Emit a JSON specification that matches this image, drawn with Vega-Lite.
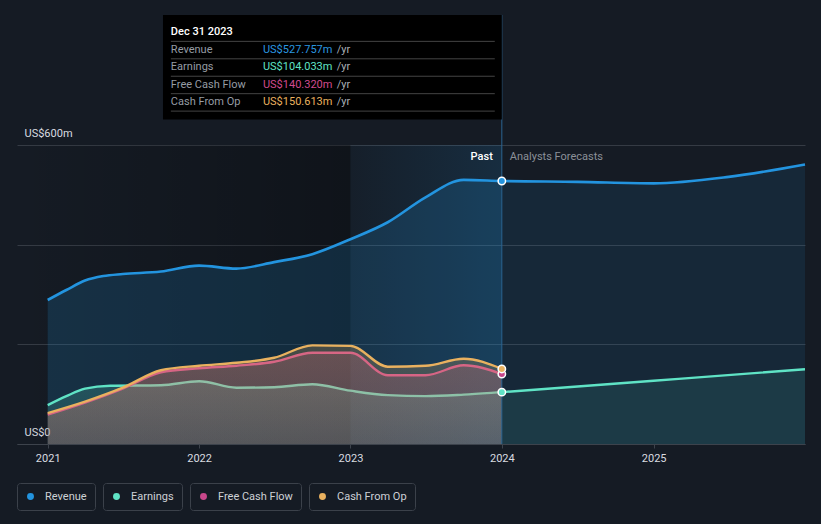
{
  "$schema": "https://vega.github.io/schema/vega-lite/v6.json",
  "width": 788,
  "height": 444,
  "autosize": {"type": "none"},
  "padding": {"left": 17, "top": 0, "right": 16, "bottom": 80},
  "background": "#151b24",
  "config": {
    "view": {"stroke": null},
    "font": "Roboto",
    "legend": {
      "orient": "bottom",
      "direction": "horizontal",
      "title": null,
      "padding": 8,
      "strokeColor": "#3b414a",
      "cornerRadius": 3,
      "symbolType": "circle",
      "symbolSize": 48,
      "symbolStrokeWidth": 0,
      "labelColor": "#cdd1d6",
      "labelFontSize": 11,
      "labelFont": "Roboto",
      "labelOffset": 9,
      "offset": 20
    }
  },
  "datasets": {
    "fin": [
      {"s": "Revenue", "d": "2021-01-01", "v": 289},
      {"s": "Revenue", "d": "2021-02-15", "v": 309},
      {"s": "Revenue", "d": "2021-04-01", "v": 328},
      {"s": "Revenue", "d": "2021-05-15", "v": 337},
      {"s": "Revenue", "d": "2021-07-01", "v": 341},
      {"s": "Revenue", "d": "2021-10-01", "v": 346},
      {"s": "Revenue", "d": "2022-01-01", "v": 358},
      {"s": "Revenue", "d": "2022-04-01", "v": 352},
      {"s": "Revenue", "d": "2022-07-01", "v": 365},
      {"s": "Revenue", "d": "2022-10-01", "v": 381},
      {"s": "Revenue", "d": "2023-01-01", "v": 411},
      {"s": "Revenue", "d": "2023-04-01", "v": 445},
      {"s": "Revenue", "d": "2023-07-01", "v": 495},
      {"s": "Revenue", "d": "2023-10-01", "v": 530},
      {"s": "Revenue", "d": "2024-01-01", "v": 527.757},
      {"s": "Revenue", "d": "2024-07-01", "v": 526},
      {"s": "Revenue", "d": "2025-01-01", "v": 523},
      {"s": "Revenue", "d": "2025-07-01", "v": 536},
      {"s": "Revenue", "d": "2026-01-01", "v": 561},
      {"s": "Earnings", "d": "2021-01-01", "v": 78},
      {"s": "Earnings", "d": "2021-02-15", "v": 96},
      {"s": "Earnings", "d": "2021-04-01", "v": 111},
      {"s": "Earnings", "d": "2021-06-01", "v": 117},
      {"s": "Earnings", "d": "2021-10-01", "v": 118},
      {"s": "Earnings", "d": "2022-01-01", "v": 126},
      {"s": "Earnings", "d": "2022-04-01", "v": 113},
      {"s": "Earnings", "d": "2022-07-01", "v": 114},
      {"s": "Earnings", "d": "2022-10-01", "v": 120},
      {"s": "Earnings", "d": "2023-01-01", "v": 107},
      {"s": "Earnings", "d": "2023-04-01", "v": 98},
      {"s": "Earnings", "d": "2023-07-01", "v": 96},
      {"s": "Earnings", "d": "2023-10-01", "v": 99},
      {"s": "Earnings", "d": "2024-01-01", "v": 104.033},
      {"s": "Earnings", "d": "2025-01-01", "v": 127},
      {"s": "Earnings", "d": "2026-01-01", "v": 150},
      {"s": "Free Cash Flow", "d": "2021-01-01", "v": 59},
      {"s": "Free Cash Flow", "d": "2021-04-01", "v": 83},
      {"s": "Free Cash Flow", "d": "2021-07-01", "v": 111},
      {"s": "Free Cash Flow", "d": "2021-10-01", "v": 144},
      {"s": "Free Cash Flow", "d": "2022-01-01", "v": 152},
      {"s": "Free Cash Flow", "d": "2022-04-01", "v": 157},
      {"s": "Free Cash Flow", "d": "2022-07-01", "v": 165},
      {"s": "Free Cash Flow", "d": "2022-10-01", "v": 183},
      {"s": "Free Cash Flow", "d": "2023-01-01", "v": 183},
      {"s": "Free Cash Flow", "d": "2023-04-01", "v": 138},
      {"s": "Free Cash Flow", "d": "2023-07-01", "v": 138},
      {"s": "Free Cash Flow", "d": "2023-10-01", "v": 158},
      {"s": "Free Cash Flow", "d": "2024-01-01", "v": 140.32},
      {"s": "Cash From Op", "d": "2021-01-01", "v": 62},
      {"s": "Cash From Op", "d": "2021-04-01", "v": 85},
      {"s": "Cash From Op", "d": "2021-07-01", "v": 113},
      {"s": "Cash From Op", "d": "2021-10-01", "v": 148},
      {"s": "Cash From Op", "d": "2022-01-01", "v": 157},
      {"s": "Cash From Op", "d": "2022-04-01", "v": 163},
      {"s": "Cash From Op", "d": "2022-07-01", "v": 173},
      {"s": "Cash From Op", "d": "2022-10-01", "v": 198},
      {"s": "Cash From Op", "d": "2023-01-01", "v": 197},
      {"s": "Cash From Op", "d": "2023-04-01", "v": 155},
      {"s": "Cash From Op", "d": "2023-07-01", "v": 157},
      {"s": "Cash From Op", "d": "2023-10-01", "v": 171},
      {"s": "Cash From Op", "d": "2024-01-01", "v": 150.613}
    ]
  },
  "layer": [
    {
      "data": {"values": [{}]},
      "mark": {"type": "rect", "fill": {"gradient": "linear", "x1": 0, "y1": 0, "x2": 1, "y2": 0, "stops": [{"offset": 0, "color": "rgba(0,0,0,0)"}, {"offset": 1, "color": "rgba(0,0,0,0.28)"}]}},
      "encoding": {
        "x": {"datum": {"year": 2020, "month": 10, "date": 19, "utc": true}, "type": "temporal", "title": null},
        "x2": {"datum": {"year": 2023, "month": 1, "date": 1, "utc": true}},
        "y": {"datum": 0, "type": "quantitative", "title": null},
        "y2": {"datum": 600}
      }
    },
    {
      "data": {"values": [{}]},
      "mark": {"type": "rect", "fill": {"gradient": "linear", "x1": 0, "y1": 0, "x2": 1, "y2": 0, "stops": [{"offset": 0, "color": "rgba(35,148,223,0.03)"}, {"offset": 1, "color": "rgba(35,148,223,0.15)"}]}},
      "encoding": {
        "x": {"datum": {"year": 2023, "month": 1, "date": 1, "utc": true}, "type": "temporal", "title": null},
        "x2": {"datum": {"year": 2024, "month": 1, "date": 1, "utc": true}},
        "y": {"datum": 0, "type": "quantitative", "title": null},
        "y2": {"datum": 600}
      }
    },
    {
      "data": {"name": "fin", "format": {"parse": {"d": "date"}}},
      "encoding": {
        "x": {
          "field": "d", "type": "temporal", "title": null,
          "scale": {"type": "utc", "domain": [{"year": 2020, "month": 10, "date": 19, "utc": true}, {"year": 2026, "month": 1, "date": 1, "utc": true}]},
          "axis": {
            "format": "%Y",
            "values": [{"year": 2021, "utc": true}, {"year": 2022, "utc": true}, {"year": 2023, "utc": true}, {"year": 2024, "utc": true}, {"year": 2025, "utc": true}],
            "grid": false, "domainColor": "#3d434c", "tickColor": "#3d434c", "tickSize": 4,
            "labelColor": "#d9dce0", "labelFontSize": 11, "labelFont": "Roboto", "labelPadding": 4, "labelFlush": false
          }
        },
        "y": {
          "field": "v", "type": "quantitative", "title": null,
          "scale": {"domain": [0, 891], "nice": false},
          "axis": {
            "values": [0, 200, 400, 600], "grid": true, "gridColor": "#353b44", "domain": false, "ticks": false, "tickSize": 0,
            "labelAlign": "left", "labelPadding": -7, "labelBaseline": "alphabetic", "labelOffset": -9,
            "labelColor": "#d9dce0", "labelFontSize": 11, "labelFont": "Roboto",
            "labelExpr": "datum.value == 0 ? 'US$0' : datum.value == 600 ? 'US$600m' : ''"
          }
        }
      },
      "layer": [
        {
          "transform": [{"filter": "datum.s == 'Revenue' && time(datum.d) <= utc(2024,0,1)"}],
          "mark": {"type": "area", "interpolate": "monotone", "fill": "#2394df", "fillOpacity": 0.18}
        },
        {
          "transform": [{"filter": "datum.s == 'Revenue' && time(datum.d) >= utc(2024,0,1)"}],
          "mark": {"type": "area", "interpolate": "monotone", "fill": "#2394df", "fillOpacity": 0.11}
        },
        {
          "transform": [{"filter": "datum.s == 'Revenue'"}],
          "mark": {"type": "line", "interpolate": "monotone", "stroke": "#2394df", "strokeWidth": 2.6}
        },
        {
          "transform": [{"filter": "datum.s == 'Earnings' && time(datum.d) <= utc(2024,0,1)"}],
          "mark": {"type": "area", "interpolate": "monotone", "fill": {"gradient": "linear", "x1": 0, "y1": 0, "x2": 0, "y2": 1, "stops": [{"offset": 0, "color": "rgba(92,230,200,0.2)"}, {"offset": 1, "color": "rgba(92,230,200,0.12)"}]}}
        },
        {
          "transform": [{"filter": "datum.s == 'Earnings' && time(datum.d) >= utc(2024,0,1)"}],
          "mark": {"type": "area", "interpolate": "monotone", "fill": "#5ce6c8", "fillOpacity": 0.1}
        },
        {
          "transform": [{"filter": "datum.s == 'Earnings'"}],
          "mark": {"type": "line", "interpolate": "monotone", "stroke": "#5fe3c5", "strokeWidth": 2.4}
        },
        {
          "transform": [{"filter": "datum.s == 'Free Cash Flow'"}],
          "mark": {"type": "area", "interpolate": "monotone", "fill": {"gradient": "linear", "x1": 0, "y1": 0, "x2": 0, "y2": 1, "stops": [{"offset": 0, "color": "rgba(208,80,138,0.24)"}, {"offset": 1, "color": "rgba(208,80,138,0.16)"}]}}
        },
        {
          "transform": [{"filter": "datum.s == 'Free Cash Flow'"}],
          "mark": {"type": "line", "interpolate": "monotone", "stroke": "#d2508f", "strokeWidth": 2.4}
        },
        {
          "transform": [{"filter": "datum.s == 'Cash From Op'"}],
          "mark": {"type": "area", "interpolate": "monotone", "fill": {"gradient": "linear", "x1": 0, "y1": 0, "x2": 0, "y2": 1, "stops": [{"offset": 0, "color": "rgba(232,176,96,0.24)"}, {"offset": 1, "color": "rgba(232,176,96,0.16)"}]}}
        },
        {
          "transform": [{"filter": "datum.s == 'Cash From Op'"}],
          "mark": {"type": "line", "interpolate": "monotone", "stroke": "#e9b15f", "strokeWidth": 2.4}
        }
      ]
    },
    {
      "data": {"values": [{}]},
      "mark": {"type": "rule", "stroke": "#2b6490", "strokeWidth": 1},
      "encoding": {
        "x": {"datum": {"year": 2024, "month": 1, "date": 1, "utc": true}, "type": "temporal", "title": null},
        "y": {"datum": 0, "type": "quantitative", "title": null},
        "y2": {"datum": 861}
      }
    },
    {
      "data": {"name": "fin", "format": {"parse": {"d": "date"}}},
      "transform": [{"filter": "time(datum.d) == utc(2024,0,1)"}],
      "encoding": {
        "x": {"field": "d", "type": "temporal", "title": null},
        "y": {"field": "v", "type": "quantitative", "title": null}
      },
      "layer": [
        {
          "transform": [{"filter": "datum.s == 'Revenue'"}],
          "mark": {"type": "point", "filled": true, "size": 55, "stroke": "#ffffff", "strokeWidth": 1.5, "opacity": 1},
          "encoding": {"color": {"datum": "Revenue", "type": "nominal", "scale": {"range": ["#2394df"]}}}
        },
        {
          "transform": [{"filter": "datum.s == 'Earnings'"}],
          "mark": {"type": "point", "filled": true, "size": 55, "stroke": "#ffffff", "strokeWidth": 1.5, "opacity": 1},
          "encoding": {"color": {"datum": "Earnings", "type": "nominal", "scale": {"range": ["#5fe3c5"]}}}
        },
        {
          "transform": [{"filter": "datum.s == 'Free Cash Flow'"}],
          "mark": {"type": "point", "filled": true, "size": 55, "stroke": "#ffffff", "strokeWidth": 1.5, "opacity": 1},
          "encoding": {"color": {"datum": "Free Cash Flow", "type": "nominal", "scale": {"range": ["#c8478b"]}}}
        },
        {
          "transform": [{"filter": "datum.s == 'Cash From Op'"}],
          "mark": {"type": "point", "filled": true, "size": 55, "stroke": "#ffffff", "strokeWidth": 1.5, "opacity": 1},
          "encoding": {"color": {"datum": "Cash From Op", "type": "nominal", "scale": {"range": ["#e9b15f"]}}}
        }
      ],
      "resolve": {"scale": {"color": "independent"}}
    },
    {
      "data": {"values": [{}]},
      "mark": {"type": "text", "text": "Past", "align": "right", "baseline": "alphabetic", "dx": -9, "fontSize": 11, "font": "Roboto", "fontWeight": 500, "color": "#ffffff"},
      "encoding": {
        "x": {"datum": {"year": 2024, "month": 1, "date": 1, "utc": true}, "type": "temporal", "title": null},
        "y": {"datum": 570, "type": "quantitative", "title": null}
      }
    },
    {
      "data": {"values": [{}]},
      "mark": {"type": "text", "text": "Analysts Forecasts", "align": "left", "baseline": "alphabetic", "dx": 8, "fontSize": 11, "font": "Roboto", "color": "#8b9098"},
      "encoding": {
        "x": {"datum": {"year": 2024, "month": 1, "date": 1, "utc": true}, "type": "temporal", "title": null},
        "y": {"datum": 570, "type": "quantitative", "title": null}
      }
    },
    {
      "data": {"values": [{}]},
      "mark": {"type": "rect", "fill": "#000000"},
      "encoding": {
        "x": {"datum": {"year": 2021, "month": 10, "date": 6, "utc": true}, "type": "temporal", "title": null},
        "x2": {"datum": {"year": 2024, "month": 1, "date": 1, "utc": true}},
        "y": {"datum": 651, "type": "quantitative", "title": null},
        "y2": {"datum": 861}
      }
    },
    {
      "data": {"values": [{}]},
      "mark": {"type": "text", "text": "Dec 31 2023", "align": "left", "baseline": "alphabetic", "fontSize": 11, "font": "Roboto", "fontWeight": 500, "color": "#ffffff"},
      "encoding": {
        "x": {"datum": {"year": 2021, "month": 10, "date": 25, "utc": true}, "type": "temporal", "title": null},
        "y": {"datum": 821, "type": "quantitative", "title": null}
      }
    },
    {
      "data": {"values": [{}]},
      "mark": {"type": "rule", "stroke": "#444444", "strokeWidth": 1},
      "encoding": {
        "x": {"datum": {"year": 2021, "month": 10, "date": 25, "utc": true}, "type": "temporal", "title": null},
        "x2": {"datum": {"year": 2023, "month": 12, "date": 15, "utc": true}},
        "y": {"datum": 808, "type": "quantitative", "title": null}
      }
    },
    {
      "data": {"values": [{}]},
      "mark": {"type": "rule", "stroke": "#444444", "strokeWidth": 1},
      "encoding": {
        "x": {"datum": {"year": 2021, "month": 10, "date": 25, "utc": true}, "type": "temporal", "title": null},
        "x2": {"datum": {"year": 2023, "month": 12, "date": 15, "utc": true}},
        "y": {"datum": 773, "type": "quantitative", "title": null}
      }
    },
    {
      "data": {"values": [{}]},
      "mark": {"type": "rule", "stroke": "#444444", "strokeWidth": 1},
      "encoding": {
        "x": {"datum": {"year": 2021, "month": 10, "date": 25, "utc": true}, "type": "temporal", "title": null},
        "x2": {"datum": {"year": 2023, "month": 12, "date": 15, "utc": true}},
        "y": {"datum": 738, "type": "quantitative", "title": null}
      }
    },
    {
      "data": {"values": [{}]},
      "mark": {"type": "rule", "stroke": "#444444", "strokeWidth": 1},
      "encoding": {
        "x": {"datum": {"year": 2021, "month": 10, "date": 25, "utc": true}, "type": "temporal", "title": null},
        "x2": {"datum": {"year": 2023, "month": 12, "date": 15, "utc": true}},
        "y": {"datum": 703, "type": "quantitative", "title": null}
      }
    },
    {
      "data": {"values": [{}]},
      "mark": {"type": "rule", "stroke": "#444444", "strokeWidth": 1},
      "encoding": {
        "x": {"datum": {"year": 2021, "month": 10, "date": 25, "utc": true}, "type": "temporal", "title": null},
        "x2": {"datum": {"year": 2023, "month": 12, "date": 15, "utc": true}},
        "y": {"datum": 668, "type": "quantitative", "title": null}
      }
    },
    {
      "data": {"values": [{}]},
      "mark": {"type": "text", "text": ["Revenue", "Earnings", "Free Cash Flow", "Cash From Op"], "lineHeight": 17.5, "align": "left", "baseline": "alphabetic", "fontSize": 11, "font": "Roboto", "color": "#969ca4"},
      "encoding": {
        "x": {"datum": {"year": 2021, "month": 10, "date": 25, "utc": true}, "type": "temporal", "title": null},
        "y": {"datum": 785, "type": "quantitative", "title": null}
      }
    },
    {
      "data": {"values": [{}]},
      "mark": {"type": "text", "text": "US$527.757m", "align": "left", "baseline": "alphabetic", "fontSize": 11, "font": "Roboto", "color": "#2a97e0"},
      "encoding": {
        "x": {"datum": {"year": 2022, "month": 6, "date": 4, "utc": true}, "type": "temporal", "title": null},
        "y": {"datum": 785, "type": "quantitative", "title": null}
      }
    },
    {
      "data": {"values": [{}]},
      "mark": {"type": "text", "text": "US$104.033m", "align": "left", "baseline": "alphabetic", "fontSize": 11, "font": "Roboto", "color": "#5fe3c5"},
      "encoding": {
        "x": {"datum": {"year": 2022, "month": 6, "date": 4, "utc": true}, "type": "temporal", "title": null},
        "y": {"datum": 750, "type": "quantitative", "title": null}
      }
    },
    {
      "data": {"values": [{}]},
      "mark": {"type": "text", "text": "US$140.320m", "align": "left", "baseline": "alphabetic", "fontSize": 11, "font": "Roboto", "color": "#d04a8e"},
      "encoding": {
        "x": {"datum": {"year": 2022, "month": 6, "date": 4, "utc": true}, "type": "temporal", "title": null},
        "y": {"datum": 715, "type": "quantitative", "title": null}
      }
    },
    {
      "data": {"values": [{}]},
      "mark": {"type": "text", "text": "US$150.613m", "align": "left", "baseline": "alphabetic", "fontSize": 11, "font": "Roboto", "color": "#e9b15f"},
      "encoding": {
        "x": {"datum": {"year": 2022, "month": 6, "date": 4, "utc": true}, "type": "temporal", "title": null},
        "y": {"datum": 680, "type": "quantitative", "title": null}
      }
    },
    {
      "data": {"values": [{}]},
      "mark": {"type": "text", "text": ["/yr", "/yr", "/yr", "/yr"], "lineHeight": 17.5, "align": "left", "baseline": "alphabetic", "fontSize": 11, "font": "Roboto", "color": "#a9aeb5"},
      "encoding": {
        "x": {"datum": {"year": 2022, "month": 11, "date": 29, "utc": true}, "type": "temporal", "title": null},
        "y": {"datum": 785, "type": "quantitative", "title": null}
      }
    }
  ],
  "resolve": {"scale": {"color": "independent"}}
}
